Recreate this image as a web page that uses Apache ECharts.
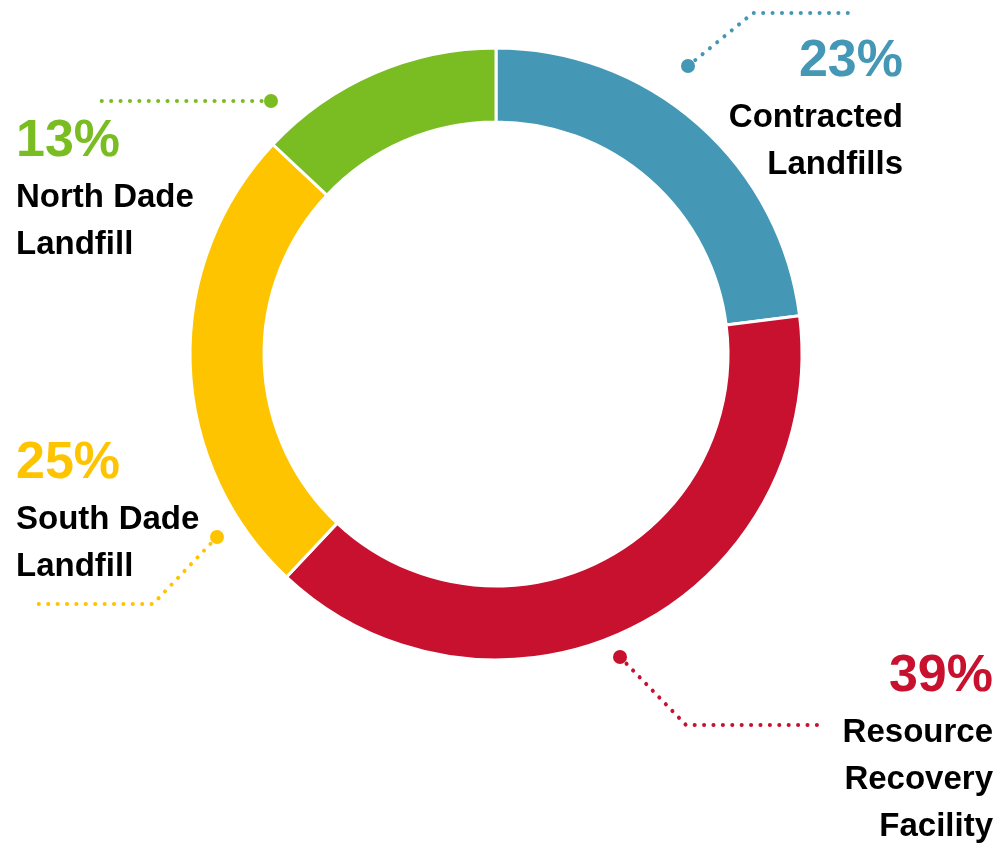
<!DOCTYPE html>
<html>
<head>
<meta charset="utf-8">
<script src="https://cdn.jsdelivr.net/npm/echarts@6/dist/echarts.min.js"></script>
<style>
  html, body { margin: 0; padding: 0; background: #fff; }
  #chart { width: 1000px; height: 849px; }
</style>
</head>
<body>
<div id="chart"></div>
<script>
// data
var names = ['Contracted\nLandfills', 'Resource\nRecovery\nFacility', 'South Dade\nLandfill', 'North Dade\nLandfill'];
var values = [23, 39, 25, 13];
var colors = ['#4498b6', '#c8112e', '#fec400', '#7abd22'];

// label placement (hand placed in the original)
var labelX = [903, 993, 16, 16];
var labelY = [30, 645, 432, 110];
var labelAlign = ['right', 'right', 'left', 'left'];
// leader lines: dot, bend, end
var leaders = [
  [[688, 66], [753, 13], [848, 13]],
  [[620, 657], [686, 725], [823, 725]],
  [[217, 537], [153, 604], [37, 604]],
  [[271, 101], [271, 101], [97, 101]]
];

var chart = echarts.init(document.getElementById('chart'));

var pieData = [];
for (var i = 0; i < values.length; i++) {
  pieData.push({
    name: names[i],
    value: values[i],
    itemStyle: { color: colors[i] },
    label: {
      align: labelAlign[i],
      rich: {
        pct: { fontSize: 52, fontWeight: 'bold', color: colors[i], lineHeight: 64, align: labelAlign[i], fontFamily: 'Liberation Sans' },
        name: { fontSize: 33, fontWeight: 'bold', color: '#000', lineHeight: 47, align: labelAlign[i], fontFamily: 'Liberation Sans' }
      }
    },
    labelLine: { lineStyle: { color: colors[i] } }
  });
}

var dots = leaders.map(function (l, i) {
  return {
    type: 'circle',
    shape: { cx: l[0][0], cy: l[0][1], r: 7 },
    style: { fill: colors[i] },
    z: 100
  };
});

var option = {
  animation: false,
  backgroundColor: '#fff',
  graphic: dots,
  series: [{
    type: 'pie',
    center: [496, 354],
    radius: [232, 306],
    startAngle: 90,
    clockwise: true,
    avoidLabelOverlap: false,
    silent: true,
    itemStyle: { borderColor: '#fff', borderWidth: 3 },
    label: {
      show: true,
      position: 'outside',
      formatter: function (p) {
        return '{pct|' + p.value + '%}\n' + p.name.split('\n').map(function (s) {
          return '{name|' + s + '}';
        }).join('\n');
      }
    },
    labelLine: {
      show: true,
      lineStyle: { width: 4, type: [0.1, 9.3], cap: 'round' }
    },
    labelLayout: function (params) {
      var i = params.dataIndex;
      return {
        x: labelX[i],
        y: labelY[i],
        align: labelAlign[i],
        verticalAlign: 'top',
        labelLinePoints: leaders[i]
      };
    },
    data: pieData
  }]
};

chart.setOption(option);
</script>
</body>
</html>
